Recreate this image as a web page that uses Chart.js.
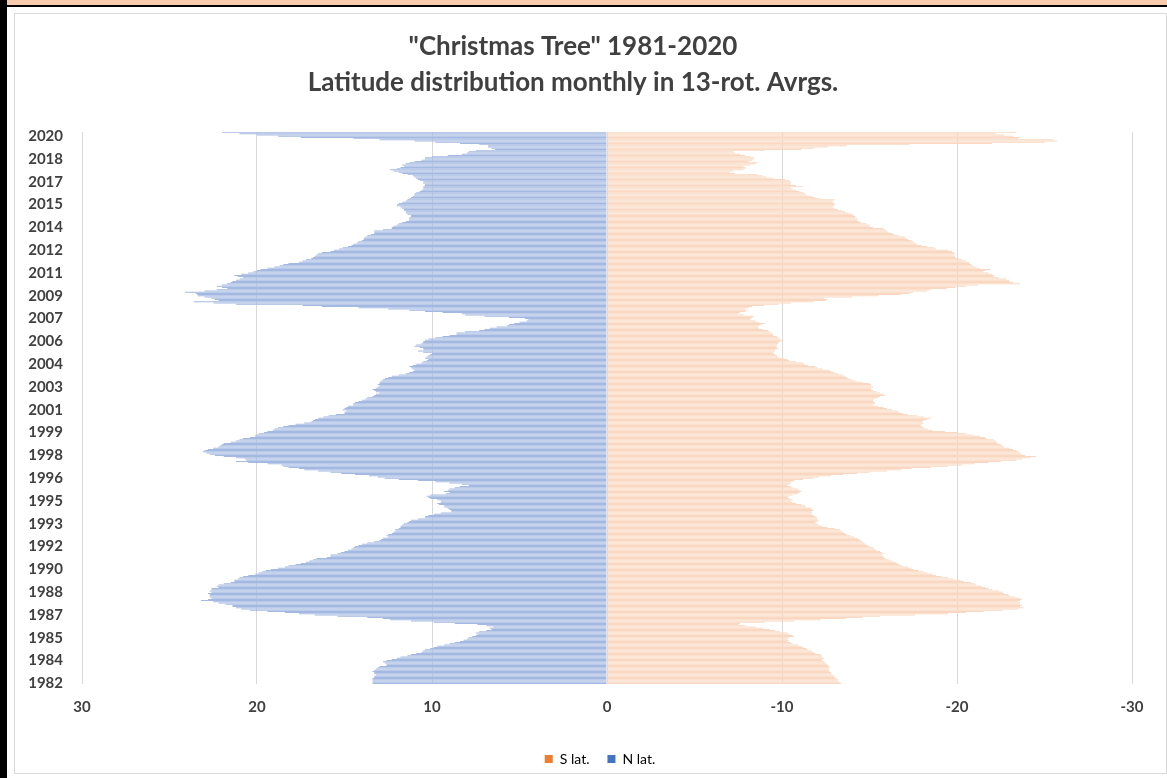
<!DOCTYPE html>
<html>
<head>
<meta charset="utf-8">
<title>"Christmas Tree" 1981-2020</title>
<script src="https://cdn.jsdelivr.net/npm/chart.js@4"></script>
<style>
  html, body { margin: 0; padding: 0; background: #fff; width: 1167px; height: 778px; overflow: hidden; }
  #topband { position: absolute; left: 0; top: 0; width: 1167px; height: 5px; background: #f8cbad; }
  #topline { position: absolute; left: 0; top: 5px; width: 1167px; height: 2px; background: #000; }
  #leftbar { position: absolute; left: 0; top: 0; width: 7px; height: 778px; background: #000; }
  #frame { position: absolute; left: 14px; top: 13px; width: 1151px; height: 759px; border: 1px solid #d9d9d9; }
  #wrap { position: absolute; left: 14px; top: 13px; width: 1152px; height: 778px; }
</style>
</head>
<body>
<div id="topband"></div>
<div id="topline"></div>
<div id="leftbar"></div>
<div id="frame"></div>
<div id="wrap"><canvas id="myChart"></canvas></div>
<script>
// monthly categories, first one July 1982
const startYear = 1982;
const startMonth = 7;
const monthCount = 460;
const months = [];
for (let k = 0; k < monthCount; k++) {
  const m = startMonth - 1 + k;
  months.push(startYear + Math.floor(m / 12) + "-" + String((m % 12) + 1).padStart(2, "0"));
}
const labelEvery = 19; // a year label on every 19th month, as in the sheet

// N lat. (positive), oldest month first
const nLat = [
  13.4,13.4,13.4,13.4,13.4,13.3,13.3,13.2,13.3,13.3,
  13.4,13.3,13.2,13.1,13.0,12.6,12.6,12.7,12.8,12.6,
  12.3,12.0,11.8,11.4,11.2,10.9,10.6,10.5,10.4,10.1,
  9.9,9.7,9.3,9.0,8.7,8.4,8.2,8.0,7.9,7.7,
  7.5,7.4,7.5,7.3,6.9,6.6,6.7,6.5,6.9,7.4,
  8.7,9.9,11.2,12.4,12.8,13.7,15.4,16.7,17.6,18.4,
  19.4,20.4,20.9,21.2,21.4,21.4,21.8,22.2,22.5,23.2,
  22.8,22.6,22.7,22.7,22.7,22.8,22.6,22.7,22.6,22.6,
  22.2,22.3,22.2,21.9,21.5,21.3,21.3,21.1,21.0,20.8,
  20.5,20.1,19.9,19.7,19.5,19.2,18.8,18.4,18.2,17.8,
  17.5,17.2,17.0,16.8,16.6,16.0,15.8,15.8,
  15.4,15.2,15.0,14.8,14.6,14.5,14.4,14.2,14.0,13.7,13.3,13.0,
  12.9,12.8,12.5,12.6,12.5,12.3,12.2,12.1,12.1,11.9,
  11.8,11.8,11.7,11.6,11.4,11.3,11.2,10.8,10.4,10.4,
  10.2,9.9,9.5,8.9,8.9,9.0,9.1,9.3,9.3,9.6,
  9.7,9.5,9.5,9.7,10.1,10.2,10.3,10.1,9.2,9.0,
  9.3,9.1,9.0,8.7,8.4,7.9,8.3,9.0,9.8,10.8,
  11.9,12.7,13.1,13.6,14.4,15.2,15.8,16.5,17.3,17.6,
  18.2,18.5,18.6,19.4,20.5,21.2,20.6,20.7,21.2,21.9,
  22.4,22.7,22.9,23.1,23.0,22.8,22.5,22.2,22.1,22.0,
  21.9,21.5,21.2,21.0,20.8,20.4,20.1,20.1,19.9,19.6,
  19.4,19.1,19.0,18.8,18.5,18.2,17.8,17.3,16.9,16.8,
  16.7,16.5,16.2,15.9,15.5,15.0,15.0,
  14.9,15.1,15.0,14.9,14.8,14.5,14.5,14.4,14.2,14.0,
  13.8,13.7,13.4,13.3,13.2,13.0,13.2,13.3,13.4,13.2,
  13.1,13.0,13.1,13.0,13.0,12.9,12.8,12.7,12.5,12.3,
  11.9,11.5,11.3,11.1,11.0,11.1,11.2,11.3,11.1,10.9,
  10.6,10.5,10.3,10.2,10.4,10.3,10.2,10.1,10.0,10.5,
  10.8,10.5,10.5,10.7,11.0,10.9,10.6,10.5,10.5,10.4,
  10.2,9.8,9.4,9.0,8.6,8.6,8.1,7.3,7.0,6.7,
  6.3,5.7,5.6,5.3,5.0,4.6,4.5,4.7,5.6,7.0,
  8.1,8.3,9.4,10.4,11.3,12.5,14.2,16.3,
  17.4,21.2,22.5,23.6,22.2,22.4,22.6,23.0,23.4,23.4,
  23.5,24.1,23.0,22.3,21.7,22.0,22.3,22.0,21.7,21.5,
  21.4,21.2,21.0,20.8,21.1,21.3,20.9,20.5,20.2,20.0,19.8,
  19.4,19.0,18.7,18.5,18.2,17.6,17.4,17.2,16.9,16.8,
  16.7,16.6,16.5,16.3,15.8,15.6,15.3,15.1,14.8,14.6,
  14.5,14.3,14.2,14.0,13.9,13.9,13.8,13.7,13.5,13.3,
  13.3,13.3,12.8,12.3,12.3,12.2,12.0,11.9,11.7,11.5,
  11.3,11.3,11.3,11.2,11.2,11.4,11.5,11.5,11.6,11.6,
  11.7,11.8,12.0,12.0,11.9,11.7,11.5,11.4,11.3,11.2,
  11.1,11.0,11.0,10.9,10.7,10.6,10.5,10.5,10.5,10.4,
  10.4,10.5,10.5,10.7,10.8,10.9,11.0,11.1,11.4,11.7,
  11.9,12.2,12.4,12.0,11.8,11.6,11.7,11.5,11.3,11.0,
  10.6,10.4,10.4,10.0,9.1,8.3,8.0,7.9,7.5,6.4,
  6.6,6.8,6.8,7.3,8.4,9.8,11.0,13.0,14.5,17.5,
  18.8,20.0,21.0,22.0
];

// S lat. (negative), oldest month first
const sLat = [
  -13.4,-13.3,-13.2,-13.2,-13.1,-13.0,-13.0,-12.9,-12.8,-12.8,
  -12.7,-12.7,-12.7,-12.7,-12.7,-12.6,-12.6,-12.5,-12.4,-12.3,
  -12.3,-12.4,-12.3,-12.3,-12.2,-11.9,-11.8,-11.7,-11.5,-11.4,
  -11.2,-11.1,-10.9,-10.6,-10.5,-10.3,-10.4,-10.3,-10.4,-10.7,
  -10.6,-10.4,-10.3,-9.9,-9.6,-9.3,-8.9,-8.5,-7.9,-7.5,
  -7.6,-9.0,-10.7,-12.2,-13.6,-14.6,-15.6,-17.6,-19.5,-20.5,
  -21.5,-22.6,-23.5,-23.8,-23.6,-23.7,-23.6,-23.6,-23.5,-23.6,
  -23.7,-23.6,-23.3,-23.0,-22.9,-22.7,-22.6,-22.4,-22.0,-21.8,
  -21.6,-21.4,-21.1,-21.0,-20.8,-20.4,-20.2,-19.8,-19.5,-19.1,
  -18.8,-18.6,-18.3,-18.1,-17.8,-17.5,-17.4,-17.2,-16.9,-16.7,
  -16.6,-16.5,-16.3,-16.1,-15.9,-15.8,-15.8,-15.7,
  -15.8,-15.7,-15.6,-15.4,-15.3,-15.2,-15.0,-14.9,-14.8,-14.7,-14.6,-14.5,
  -14.4,-14.3,-14.1,-13.9,-13.7,-13.6,-13.5,-13.4,-13.3,-13.0,
  -12.6,-12.3,-12.1,-12.0,-11.9,-12.0,-12.1,-12.0,-12.0,-11.9,
  -11.8,-11.7,-11.7,-11.7,-11.8,-11.7,-11.7,-11.4,-11.3,-11.1,
  -10.8,-10.6,-10.5,-10.6,-10.4,-10.3,-10.4,-10.6,-10.9,-11.0,
  -11.1,-11.0,-10.9,-10.6,-10.5,-10.3,-10.4,-10.5,-10.6,-10.7,
  -11.2,-11.8,-12.1,-12.8,-13.5,-14.3,-15.0,-16.0,-16.8,-17.4,
  -18.5,-19.5,-20.3,-21.0,-21.8,-22.5,-23.4,-23.7,-24.2,-24.5,
  -23.9,-23.7,-23.6,-23.5,-23.4,-23.2,-23.0,-22.7,-22.6,-22.5,
  -22.3,-22.3,-22.2,-22.1,-21.7,-21.6,-21.3,-20.9,-20.5,-20.0,
  -19.3,-18.6,-18.3,-18.1,-18.0,-17.9,-18.0,-18.1,-18.0,-18.1,
  -18.3,-18.5,-18.1,-17.7,-17.2,-16.9,-16.7,
  -16.6,-16.3,-16.0,-15.8,-15.5,-15.2,-15.3,-15.3,-15.2,-15.2,
  -15.3,-15.5,-15.6,-15.9,-15.8,-15.6,-15.4,-15.2,-15.1,-15.1,
  -15.2,-15.1,-15.1,-15.0,-14.6,-14.2,-14.0,-13.8,-13.7,-13.6,
  -13.5,-13.2,-13.0,-12.8,-12.7,-12.3,-12.0,-11.9,-11.5,-11.3,
  -11.2,-10.8,-10.4,-10.3,-10.1,-9.8,-9.7,-9.6,-9.5,-9.5,
  -9.6,-9.6,-9.8,-9.7,-9.7,-9.7,-9.8,-9.8,-9.9,-10.1,
  -9.9,-9.8,-9.7,-9.5,-9.5,-9.4,-9.3,-9.2,-8.9,-8.7,
  -8.6,-8.7,-8.8,-9.0,-8.7,-8.5,-8.2,-8.2,-8.3,-8.4,
  -7.8,-7.5,-7.6,-7.9,-8.0,-7.9,-8.1,-8.3,
  -9.0,-9.8,-10.5,-11.8,-12.5,-12.6,-12.4,-14.0,-15.5,-16.8,
  -17.3,-17.5,-18.3,-18.5,-19.4,-19.9,-20.5,-21.2,-23.6,-23.2,
  -23.0,-23.0,-22.8,-22.4,-22.1,-22.1,-22.0,-21.8,-21.5,-21.6,-21.9,
  -21.3,-21.1,-20.9,-20.8,-20.7,-20.7,-20.5,-20.3,-20.1,-19.9,
  -19.9,-19.8,-19.9,-19.8,-19.7,-19.5,-18.8,-18.7,-18.3,-18.0,
  -17.7,-17.6,-17.5,-17.4,-17.2,-17.1,-17.0,-16.7,-16.4,-16.3,
  -16.1,-16.0,-15.9,-15.8,-15.2,-15.0,-15.0,-14.8,-14.5,-14.4,
  -14.3,-14.3,-14.2,-14.2,-14.1,-14.0,-13.8,-13.6,-13.4,-13.2,
  -13.0,-12.9,-13.0,-13.0,-13.0,-12.9,-12.9,-13.0,-12.2,-11.9,
  -11.7,-11.4,-11.3,-11.2,-11.0,-10.8,-10.6,-10.5,-11.2,-10.8,
  -10.5,-10.5,-10.5,-10.4,-10.2,-9.5,-9.1,-8.9,-8.6,-7.3,
  -7.0,-7.2,-7.8,-7.9,-7.9,-7.8,-8.2,-8.5,-8.6,-8.1,
  -8.3,-8.4,-8.4,-8.2,-7.9,-7.6,-7.3,-7.2,-9.0,-11.1,
  -11.8,-12.6,-13.7,-17.3,-22.0,-25.0,-25.7,-25.5,-23.5,-23.6,
  -23.2,-22.7,-22.2,-23.4
];

const titleLines = ['"Christmas Tree" 1981-2020', "Latitude distribution monthly in 13-rot. Avrgs."];
const legendColors = ["#ed7d31", "#4472c4"];

const tickFont = { family: "Lato", size: 15, weight: "bold" };

// nudge the legend row to the right, the sheet centres it a bit off the middle
const legendShift = {
  id: "legendShift",
  afterLayout(chart) {
    chart.legend.left += 27;
    chart.legend.right += 27;
  },
};

new Chart(document.getElementById("myChart"), {
  type: "bar",
  data: {
    labels: months,
    datasets: [
      {
        label: "S lat.",
        data: sLat,
        backgroundColor: "#f9d7c0",
        borderWidth: 0,
        barPercentage: 1,
        categoryPercentage: 0.82,
      },
      {
        label: "N lat.",
        data: nLat,
        backgroundColor: "#a4b9e2",
        borderWidth: 0,
        barPercentage: 1,
        categoryPercentage: 0.82,
      },
    ],
  },
  plugins: [legendShift],
  options: {
    indexAxis: "y",
    responsive: true,
    maintainAspectRatio: false,
    animation: false,
    layout: { padding: { top: 0, left: 0, right: 34, bottom: 15 } },
    plugins: {
      tooltip: { enabled: false },
      title: {
        display: true,
        text: titleLines,
        color: "#404040",
        font: { family: "Lato", size: 26, weight: "bold", lineHeight: 1.385 },
        padding: { top: 16, bottom: 31 },
      },
      legend: {
        position: "bottom",
        labels: {
          boxWidth: 8,
          boxHeight: 8,
          padding: 18,
          color: "#595959",
          font: { family: "Lato", size: 14 },
          generateLabels: (chart) =>
            chart.data.datasets.map((ds, i) => ({
              text: ds.label,
              fillStyle: legendColors[i],
              strokeStyle: legendColors[i],
              lineWidth: 0,
              hidden: false,
              datasetIndex: i,
            })),
        },
      },
    },
    scales: {
      x: {
        type: "linear",
        min: -30,
        max: 30,
        reverse: true,
        stacked: true,
        z: 1,
        grid: { color: "rgba(0,0,0,0.15)", drawTicks: false },
        border: { display: false },
        ticks: { stepSize: 10, padding: 14, color: "#404040", font: tickFont },
        afterFit: (scale) => { scale.height = 50; },
      },
      y: {
        type: "category",
        reverse: true,
        stacked: true,
        grid: { display: false },
        border: { display: false },
        ticks: {
          autoSkip: false,
          padding: 11,
          color: "#404040",
          font: tickFont,
          callback: function (value, index) {
            return index % labelEvery === 0 ? this.getLabelForValue(value).slice(0, 4) : null;
          },
        },
        afterFit: (scale) => { scale.width = 68; },
      },
    },
  },
});
</script>
</body>
</html>
